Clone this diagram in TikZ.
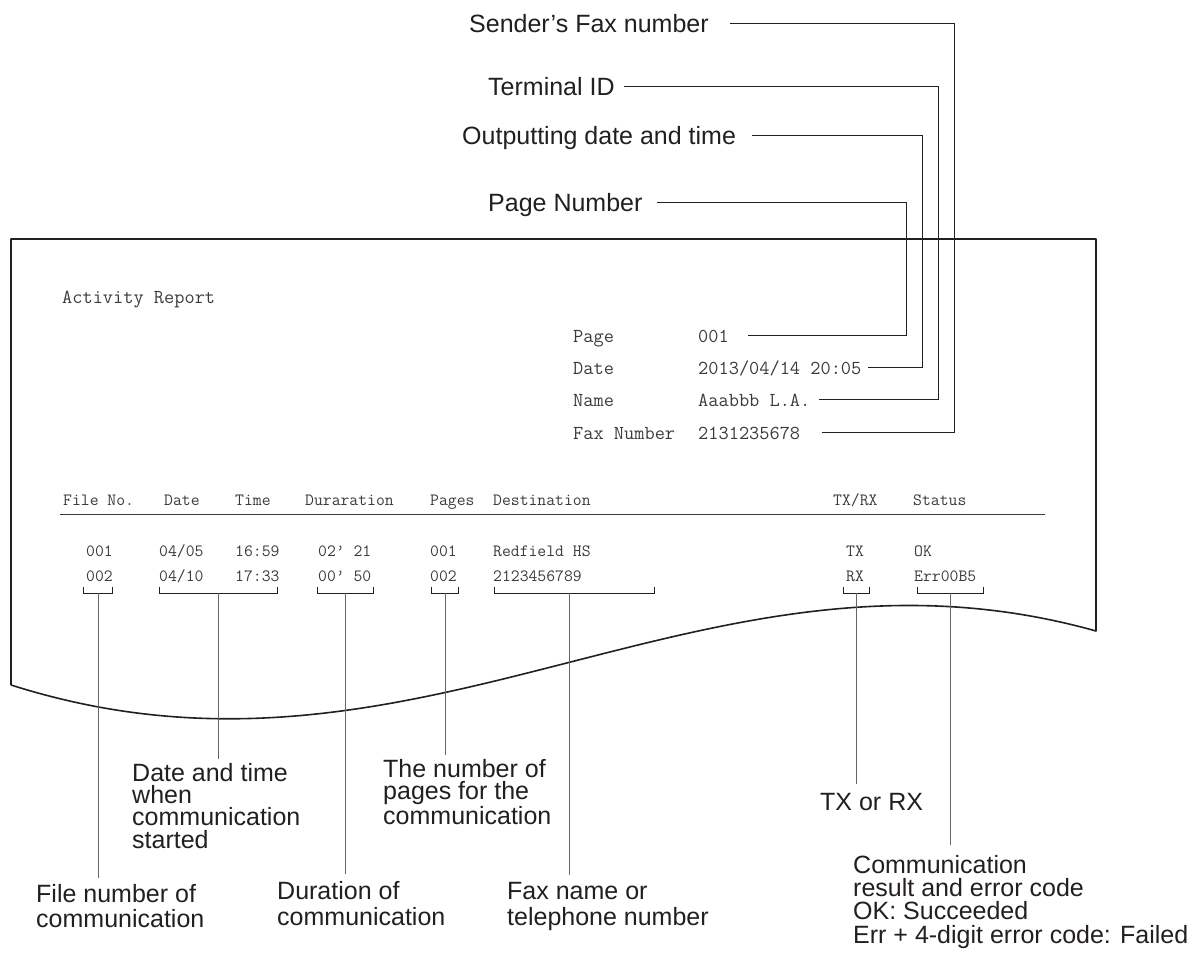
\documentclass[tikz,border=0pt]{standalone}
\usepackage{fontspec}
\setmainfont{Liberation Sans}
\usetikzlibrary{positioning}
\definecolor{ink}{RGB}{35,31,32}
\definecolor{printed}{RGB}{62,58,58}
\definecolor{leader}{RGB}{105,100,100}
\tikzstyle{report_text} = [inner sep=0pt, anchor=base west, text=printed, text height=13pt, text depth=0pt, font=\ttfamily\fontsize{19.8}{19.8}\selectfont]
\tikzstyle{table_text} = [inner sep=0pt, anchor=base west, text=printed, font=\ttfamily\fontsize{17.2}{17.2}\selectfont]
\tikzstyle{callout_text} = [inner sep=0pt, anchor=base west, text=ink, text height=18pt, text depth=0pt, font=\fontsize{25}{30}\selectfont]
\tikzstyle{note_text} = [inner sep=0pt, anchor=base west, text=ink, align=left, font=\fontsize{25}{22.3}\selectfont]
\tikzstyle{paper} = [draw=ink, line width=1.6pt, line join=round]
\tikzstyle{callout_line} = [draw=ink, line width=1pt]
\tikzstyle{bracket} = [draw=ink, line width=1pt]
\tikzstyle{leader_line} = [draw=leader, line width=1pt]

\begin{document}
\begin{tikzpicture}[x=1pt, y=-1pt]
			\useasboundingbox (0,0) rectangle (1198,960);

			% sheet of paper with the torn lower edge
			\draw[paper] (11,685) -- (11,239) -- (1096,239) -- (1096,631)
				.. controls (700,520) and (420,815) .. (11,685);

			% report heading
			\node[report_text] (title) at (62,303) {Activity Report};
			\node[report_text] (page) at (573,342) {Page};
			\node[report_text] (date) at ([yshift=-32pt]page.base west) {Date};
			\node[report_text] (name) at ([yshift=-32pt]date.base west) {Name};
			\node[report_text] (fax) at ([yshift=-33pt]name.base west) {Fax Number};
			\node[report_text] (pageval) at ([xshift=125pt]page.base west) {001};
			\node[report_text] (dateval) at ([xshift=125pt]date.base west) {2013/04/14 20:05};
			\node[report_text] (nameval) at ([xshift=125pt]name.base west) {Aaabbb L.A.};
			\node[report_text] (faxval) at ([xshift=125pt]fax.base west) {2131235678};

			% table head
			\node[table_text] (h_file) at (63,505) {File No.};
			\node[table_text] (h_date) at (164,505) {Date};
			\node[table_text] (h_time) at (235,505) {Time};
			\node[table_text] (h_dur) at (305,505) {Duraration};
			\node[table_text] (h_pages) at (430,505) {Pages};
			\node[table_text] (h_dest) at (493,505) {Destination};
			\node[table_text] (h_txrx) at (833,505) {TX/RX};
			\node[table_text] (h_status) at (913,505) {Status};
			\draw[draw=printed, line width=1pt] (60,514) -- (1045,514);

			% table rows
			\node[table_text] (file1) at (86,556) {001};
			\node[table_text] (date1) at (159,556) {04/05};
			\node[table_text] (time1) at (235,556) {16:59};
			\node[table_text] (dur1) at (318,556) {02’ 21};
			\node[table_text] (pages1) at (430,556) {001};
			\node[table_text] (dest1) at (493,556) {Redfield HS};
			\node[table_text] (txrx1) at (846,556) {TX};
			\node[table_text] (status1) at (914,556) {OK};
			\node[table_text] (file2) at ([yshift=-25pt]file1.base west) {002};
			\node[table_text] (date2) at ([yshift=-25pt]date1.base west) {04/10};
			\node[table_text] (time2) at ([yshift=-25pt]time1.base west) {17:33};
			\node[table_text] (dur2) at ([yshift=-25pt]dur1.base west) {00’ 50};
			\node[table_text] (pages2) at ([yshift=-25pt]pages1.base west) {002};
			\node[table_text] (dest2) at ([yshift=-25pt]dest1.base west) {2123456789};
			\node[table_text] (txrx2) at ([yshift=-25pt]txrx1.base west) {RX};
			\node[table_text] (status2) at ([yshift=-25pt]status1.base west) {Err00B5};

			% brackets under the columns
			\draw[bracket] (83,587) |- (112,593) -- (112,587);
			\draw[bracket] (159,587) |- (277,593) -- (277,587);
			\draw[bracket] (317,587) |- (373,593) -- (373,587);
			\draw[bracket] (431,587) |- (458,593) -- (458,587);
			\draw[bracket] (494,587) |- (654,593) -- (654,587);
			\draw[bracket] (843,587) |- (869,593) -- (869,587);
			\draw[bracket] (917,587) |- (983,593) -- (983,587);
			\coordinate (file_br) at (98,593);
			\coordinate (date_br) at (218,593);
			\coordinate (dur_br) at (345,593);
			\coordinate (pages_br) at (445,593);
			\coordinate (dest_br) at (569,593);
			\coordinate (txrx_br) at (856,593);
			\coordinate (status_br) at (950,593);

			% labels above the sheet
			\node[callout_text] (sender) at (469,33) {Sender’s Fax number};
			\node[callout_text] (terminal) at (488,96) {Terminal ID};
			\node[callout_text] (outdate) at (462,145) {Outputting date and time};
			\node[callout_text] (pagenum) at (488,211) {Page Number};

			% labels below the sheet (placed at the baseline of their last line)
			\node[note_text, font=\fontsize{25}{25}\selectfont] (filenote) at (36,927) {File number of\\communication};
			\node[note_text] (datenote) at (132,848) {Date and time\\when\\communication\\started};
			\node[note_text, font=\fontsize{25}{26}\selectfont] (durnote) at (277,925) {Duration of\\communication};
			\node[note_text, font=\fontsize{25}{22}\selectfont] (pagesnote) at (383,824) {The number of\\pages for the\\communication};
			\node[note_text, font=\fontsize{25}{26}\selectfont] (destnote) at (507,925) {Fax name or\\telephone number};
			\node[note_text] (txnote) at (820,810) {TX or RX};
			\node[note_text, font=\fontsize{25}{23.3}\selectfont] (statusnote) at (853,943) {Communication\\result and error code\\OK: Succeeded\\Err + 4-digit error code: Failed};

			% draw lines
			\draw[callout_line] ([xshift=21pt]sender.east) -| ([xshift=154pt]faxval.east) -- ([xshift=22pt]faxval.east);
			\draw[callout_line] ([xshift=9pt]terminal.east) -| ([xshift=128pt]nameval.east) -- ([xshift=8pt]nameval.east);
			\draw[callout_line] ([xshift=16pt]outdate.east) -| ([xshift=61pt]dateval.east) -- ([xshift=6pt]dateval.east);
			\draw[callout_line] ([xshift=14pt]pagenum.east) -| ([xshift=177pt]pageval.east) -- ([xshift=19pt]pageval.east);

			\draw[leader_line] (file_br) -- ([yshift=6pt]file_br |- filenote.north);
			\draw[leader_line] (date_br) -- ([yshift=4pt]date_br |- datenote.north);
			\draw[leader_line] (dur_br) -- ([yshift=7pt]dur_br |- durnote.north);
			\draw[leader_line] (pages_br) -- ([yshift=4pt]pages_br |- pagesnote.north);
			\draw[leader_line] (dest_br) -- ([yshift=7pt]dest_br |- destnote.north);
			\draw[leader_line] (txrx_br) -- ([yshift=9pt]txrx_br |- txnote.north);
			\draw[leader_line] (status_br) -- ([yshift=10pt]status_br |- statusnote.north);
		\end{tikzpicture}
\end{document}
